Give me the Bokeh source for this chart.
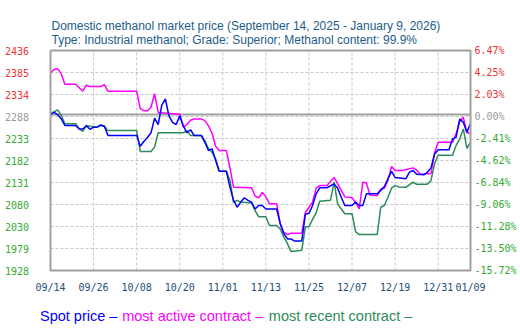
import pandas as pd
from bokeh.plotting import figure
from bokeh.models import Range1d
from bokeh.core.properties import value
from bokeh.embed import file_html
from bokeh.resources import INLINE

# ---------------- data ----------------
spot_dates = ["09-14","09-15","09-16","09-17","09-18","09-21","09-22","09-23","09-24","09-25",
              "09-26","09-27","09-28","09-29","09-30","10-08","10-09","10-10","10-11","10-12",
              "10-13","10-14","10-15","10-16","10-17","10-18","10-19","10-20","10-21","10-22",
              "10-23","10-24","10-26","10-27","10-28","10-29","10-30","10-31","11-02","11-03",
              "11-04","11-05","11-06","11-07","11-08","11-09","11-10","11-11","11-12","11-13",
              "11-16","11-17","11-18","11-19","11-20","11-21","11-23","11-24","11-25","11-26",
              "11-27","11-28","11-30","12-02","12-03","12-04","12-05","12-07","12-08","12-09",
              "12-10","12-11","12-14","12-15","12-16","12-17","12-18","12-19","12-22","12-23",
              "12-24","12-25","12-27","12-28","12-29","12-30","12-31","01-03","01-04","01-05",
              "01-06","01-07","01-08","01-09"]
spot = [2288,2293,2288,2278,2263,2263,2255,2255,2262,2254,
        2259,2259,2264,2261,2240,2240,2215,2226,2235,2246,
        2280,2265,2310,2324,2285,2270,2265,2285,2262,2246,
        2253,2240,2240,2224,2205,2209,2182,2157,2157,2120,
        2090,2074,2086,2096,2090,2086,2070,2078,2078,2070,
        2070,2036,2013,2001,2001,1996,1996,2058,2060,2078,
        2105,2119,2119,2128,2118,2097,2078,2078,2086,2078,
        2078,2105,2105,2113,2122,2140,2157,2143,2140,2155,
        2159,2150,2149,2155,2165,2197,2207,2207,2232,2236,
        2278,2270,2247,2268]

active_dates = ["09-14","09-15","09-16","09-17","09-18","09-21","09-23","09-24","09-25","09-28",
                "09-29","09-30","10-08","10-09","10-10","10-11","10-12","10-13","10-14","10-20",
                "10-21","10-22","10-23","10-24","10-26","10-27","10-28","10-29","10-30","10-31",
                "11-02","11-03","11-04","11-09","11-10","11-11","11-12","11-13","11-14","11-16",
                "11-17","11-18","11-19","11-20","11-23","11-24","11-25","11-26","11-27","11-28",
                "11-30","12-01","12-02","12-03","12-04","12-05","12-07","12-08","12-09","12-10",
                "12-11","12-12","12-14","12-15","12-16","12-17","12-18","12-19","12-21","12-24",
                "12-25","12-26","12-29","12-30","12-31","01-04","01-05","01-06","01-07","01-08",
                "01-09"]
active = [2384,2392,2394,2382,2358,2358,2342,2356,2353,2353,
          2357,2342,2342,2302,2297,2297,2305,2336,2293,2289,
          2259,2265,2275,2278,2278,2274,2262,2245,2215,2205,
          2205,2165,2120,2119,2100,2096,2108,2098,2082,2082,
          2036,2016,2011,2014,2014,2062,2074,2086,2118,2124,
          2124,2134,2143,2128,2113,2098,2096,2085,2070,2132,
          2130,2102,2101,2116,2118,2136,2168,2159,2159,2165,
          2160,2150,2152,2200,2224,2224,2244,2272,2282,2246,
          2245]

recent_dates = ["09-14","09-16","09-17","09-18","09-21","09-22","09-23","09-24","09-25","09-27",
                "09-28","09-29","09-30","10-08","10-09","10-12","10-13","10-14","10-21","10-22",
                "10-23","10-26","10-27","10-28","10-29","10-30","10-31","11-02","11-03","11-04",
                "11-05","11-06","11-09","11-10","11-11","11-13","11-14","11-16","11-17","11-18",
                "11-19","11-20","11-23","11-24","11-25","11-26","11-27","11-28","12-01","12-02",
                "12-03","12-04","12-05","12-07","12-08","12-09","12-14","12-15","12-16","12-17",
                "12-18","12-19","12-20","12-22","12-24","12-25","12-28","12-29","12-30","12-31",
                "01-04","01-05","01-06","01-07","01-08","01-09"]
recent = [2290,2299,2286,2267,2267,2255,2249,2263,2261,2259,
          2263,2261,2251,2251,2203,2203,2213,2246,2246,2251,
          2240,2240,2228,2209,2201,2186,2157,2157,2136,2085,
          2090,2086,2084,2066,2052,2052,2032,2032,2024,2005,
          1990,1972,1975,2029,2029,2046,2061,2088,2090,2132,
          2082,2070,2059,2059,2017,2011,2011,2074,2078,2097,
          2118,2124,2121,2120,2132,2127,2127,2136,2175,2194,
          2194,2217,2232,2255,2210,2224]

x_tick_dates = ["09-14","09-26","10-08","10-20","11-01","11-13","11-25","12-07","12-19","12-31","01-09"]
left_labels = ["1928","1979","2030","2080","2131","2182","2233","2288","2334","2385","2436"]
right_labels = ["-15.72%","-13.50%","-11.28%","-9.06%","-6.84%","-4.62%","-2.41%","0.00%","2.03%","4.25%","6.47%"]
base_price = 2288
y_min, y_max = 1928, 2436

title1 = "Domestic methanol market price (September 14, 2025 - January 9, 2026)"
title2 = "Type: Industrial methanol; Grade: Superior; Methanol content: 99.9%"
legend_items = ["Spot price \u2013", "most active contract \u2013", "most recent contract \u2013"]


def to_dt(s):
    m = int(s[:2])
    year = 2025 if m >= 9 else 2026
    return pd.Timestamp(f"{year}-{s}")


def to_ms(s):
    return to_dt(s).value / 1e6


def conv(lst):
    return [to_ms(s) for s in lst]


# ---------------- layout (pixel geometry of the plot box) ----------------
W, H = 520, 328
FL, FR, FT, FB = 50, 470, 50, 270

x0 = to_ms(x_tick_dates[0])
x1 = to_ms(x_tick_dates[-1])
dx = (x1 - x0) / (FR - FL)
dy = (y_max - y_min) / (FB - FT)


def px_x(px):
    return x0 + (px - FL) * dx


def px_y(py):
    return y_max - (py - FT) * dy


p = figure(width=W, height=H,
           x_range=Range1d(px_x(0), px_x(W)), y_range=Range1d(px_y(H), px_y(0)),
           output_backend="svg", toolbar_location=None,
           x_axis_location=None, y_axis_location=None, min_border=0)
p.background_fill_color = "white"
p.border_fill_color = "white"
p.outline_line_color = None
p.grid.visible = False

n = len(left_labels)
yticks = [y_min + i * (y_max - y_min) / (n - 1) for i in range(n)]
xticks = conv(x_tick_dates)

grid_col = "#c8c8c8"
# horizontal gridlines
p.segment(x0=[x0] * (n - 2), x1=[x1] * (n - 2), y0=yticks[1:-1], y1=yticks[1:-1],
          line_color=grid_col, line_dash="3 2", line_width=1)
# vertical gridlines
p.segment(x0=xticks[1:-1], x1=xticks[1:-1], y0=[y_min] * (len(xticks) - 2),
          y1=[y_max] * (len(xticks) - 2), line_color=grid_col, line_dash="3 2", line_width=1)
# base price line
p.segment(x0=[x0], x1=[x1], y0=[base_price], y1=[base_price], line_color="#a0a0a0", line_width=2)

# series
p.line(conv(recent_dates), recent, line_color="#2e8b57", line_width=1.5)
p.line(conv(active_dates), active, line_color="#ff00ff", line_width=1.5)
p.line(conv(spot_dates), spot, line_color="#0000ff", line_width=1.5)

# plot box
p.quad(left=[x0], right=[x1], bottom=[y_min], top=[y_max], fill_color=None,
       line_color="#a0a0a0", line_width=2)

# y tick labels
base_idx = left_labels.index(str(base_price))
cols = ["#ee3333" if i > base_idx else ("#999999" if i == base_idx else "#33aa33") for i in range(n)]
mono = value("DejaVu Sans Mono")
p.text(x=[px_x(28.5)] * n, y=yticks, text=left_labels, text_color=cols, text_align="right",
       text_baseline="middle", text_font=mono, text_font_size="10px")
p.text(x=[px_x(474)] * n, y=yticks, text=right_labels, text_color=cols, text_align="left",
       text_baseline="middle", text_font=mono, text_font_size="10px")

# x tick labels
p.text(x=xticks, y=[px_y(287)] * len(xticks), text=[to_dt(s).strftime("%m/%d") for s in x_tick_dates],
       text_color="#1f4e79", text_align="center", text_baseline="middle",
       text_font=mono, text_font_size="10px")

# titles
sans = value("Liberation Sans")
p.text(x=[px_x(51), px_x(51)], y=[px_y(25), px_y(39)], text=[title1, title2],
       text_color="#1c5d8c", text_align="left", text_baseline="alphabetic",
       text_font=sans, text_font_size="12px")

# legend line
leg_cols = ["#0000ff", "#ff00ff", "#2e8b57"]
leg_px = [39.5, 121.7, 268.3]
p.text(x=[px_x(v) for v in leg_px], y=[px_y(315)] * 3, text=legend_items, text_color=leg_cols,
       text_align="left", text_baseline="alphabetic", text_font=sans, text_font_size="14.5px")

open("out.html", "w").write(file_html(p, INLINE))
